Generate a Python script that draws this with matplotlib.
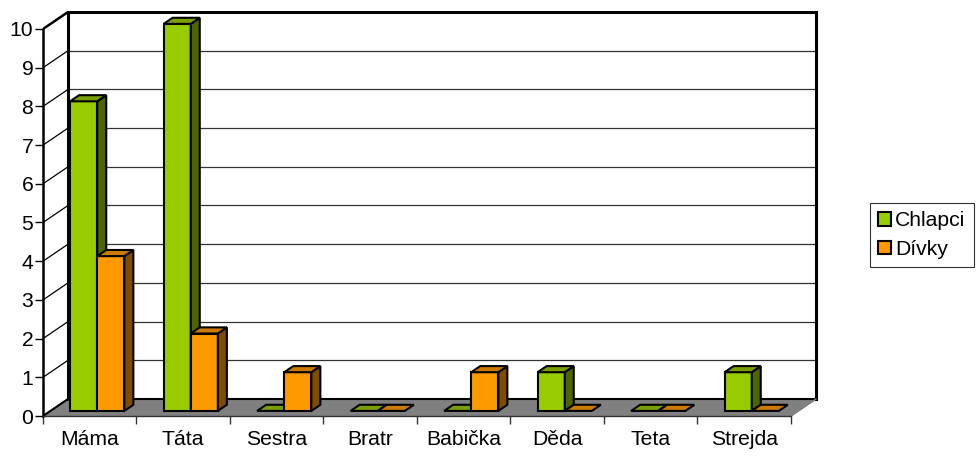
import matplotlib
matplotlib.use("Agg")
import matplotlib.pyplot as plt
from matplotlib.patches import Polygon, Patch

categories = ["Máma", "Táta", "Sestra", "Bratr", "Babička", "Děda", "Teta", "Strejda"]
chlapci = [8, 10, 0, 0, 0, 1, 0, 1]
divky = [4, 2, 1, 0, 1, 0, 0, 0]
series_names = ["Chlapci", "Dívky"]
y_ticks = list(range(0, 11))

# face, top, side colours for each series
colors = [
    ("#99CC00", "#7A9F00", "#4D6600"),
    ("#FF9900", "#CC7A00", "#804D00"),
]

plt.rcParams["font.family"] = ["Liberation Sans", "DejaVu Sans"]

W, H = 978, 459
fig = plt.figure(figsize=(W / 100, H / 100), dpi=100)

n = len(categories)
ymax = 10
px_x = 93.5   # pixels per category
px_y = 38.7   # pixels per unit value
depth_x = 25 / px_x
depth_y = 17 / px_y
fs = 15.2

left, bottom = 43, 459 - 416
xlim = (0, n + 0.3)
ylim = (0, ymax + 0.46)
ax = fig.add_axes([left / W, bottom / H,
                   (xlim[1] - xlim[0]) * px_x / W,
                   (ylim[1] - ylim[0]) * px_y / H])
ax.set_xlim(*xlim)
ax.set_ylim(*ylim)
ax.set_facecolor("none")

# floor
floor = Polygon([(0, 0), (n, 0), (n + depth_x, depth_y), (depth_x, depth_y)],
                closed=True, facecolor="#808080", edgecolor="#808080", lw=1, zorder=1)
ax.add_patch(floor)
ax.plot([0, depth_x], [0, depth_y], color="black", lw=1.5, zorder=2)
ax.plot([depth_x, n + depth_x], [depth_y, depth_y], color="black", lw=1.5, zorder=2)

# gridlines on back wall + side wall diagonals
for v in y_ticks[1:]:
    if v < ymax:
        ax.plot([depth_x, n + depth_x], [v + depth_y, v + depth_y],
                color="#333333", lw=0.9, zorder=1)
    ax.plot([0, depth_x], [v, v + depth_y], color="black", lw=0.9 if v < ymax else 1.8, zorder=1)

# back wall outline
ax.plot([depth_x, depth_x, n + depth_x, n + depth_x],
        [depth_y, ymax + depth_y, ymax + depth_y, depth_y],
        color="black", lw=2.2, zorder=2, solid_joinstyle="miter")
ax.plot([n, n + depth_x], [0, depth_y], color="#808080", lw=1, zorder=2)

# bars
bw = 0.29
gap = (1 - 2 * bw) / 2
f0, f1 = 0.3, 0.66
ox0, oy0 = f0 * depth_x, f0 * depth_y
ox1, oy1 = f1 * depth_x, f1 * depth_y
for i in range(n):
    for s, vals in enumerate([chlapci, divky]):
        v = vals[i]
        face, top, side = colors[s]
        x0 = i + gap + s * bw
        x1 = x0 + bw
        kw = dict(closed=True, edgecolor="black", lw=1.5, zorder=3 + i * 2 + s,
                  joinstyle="miter")
        if v > 0:
            ax.add_patch(Polygon([(x0 + ox0, oy0), (x1 + ox0, oy0),
                                  (x1 + ox0, v + oy0), (x0 + ox0, v + oy0)],
                                 facecolor=face, **kw))
            ax.add_patch(Polygon([(x1 + ox0, oy0), (x1 + ox1, oy1),
                                  (x1 + ox1, v + oy1), (x1 + ox0, v + oy0)],
                                 facecolor=side, **kw))
        ax.add_patch(Polygon([(x0 + ox0, v + oy0), (x1 + ox0, v + oy0),
                              (x1 + ox1, v + oy1), (x0 + ox1, v + oy1)],
                             facecolor=top, **kw))

# axes
for sp in ["top", "right"]:
    ax.spines[sp].set_visible(False)
ax.spines["left"].set_bounds(0, ymax)
ax.spines["bottom"].set_bounds(0, n)
ax.spines["left"].set_linewidth(1.8)
ax.spines["bottom"].set_linewidth(1.0)
ax.spines["bottom"].set_color("#333333")
ax.spines["left"].set_zorder(2)

ax.set_yticks(y_ticks)
ax.tick_params(axis="y", direction="out", length=6, width=1, labelsize=fs, pad=1)
ax.set_xticks(range(n + 1))
ax.set_xticklabels([])
ax.set_xticks([i + 0.5 for i in range(n)], minor=True)
ax.set_xticklabels(categories, minor=True)
ax.tick_params(axis="x", which="major", direction="out", length=6, width=1, color="#333333")
ax.tick_params(axis="x", which="minor", length=0, labelsize=fs, pad=10)

handles = [Patch(facecolor=colors[k][0], edgecolor="black", lw=1.5) for k in range(2)]
leg = fig.legend(handles, series_names, loc="center",
                 bbox_to_anchor=(922 / W, 1 - 235 / H), fontsize=fs,
                 frameon=True, fancybox=False, edgecolor="black",
                 handlelength=0.6, handleheight=0.6, handletextpad=0.2,
                 borderpad=0.4, labelspacing=0.45, borderaxespad=0)
leg.get_frame().set_linewidth(0.8)

fig.savefig("out.png", dpi=100)
